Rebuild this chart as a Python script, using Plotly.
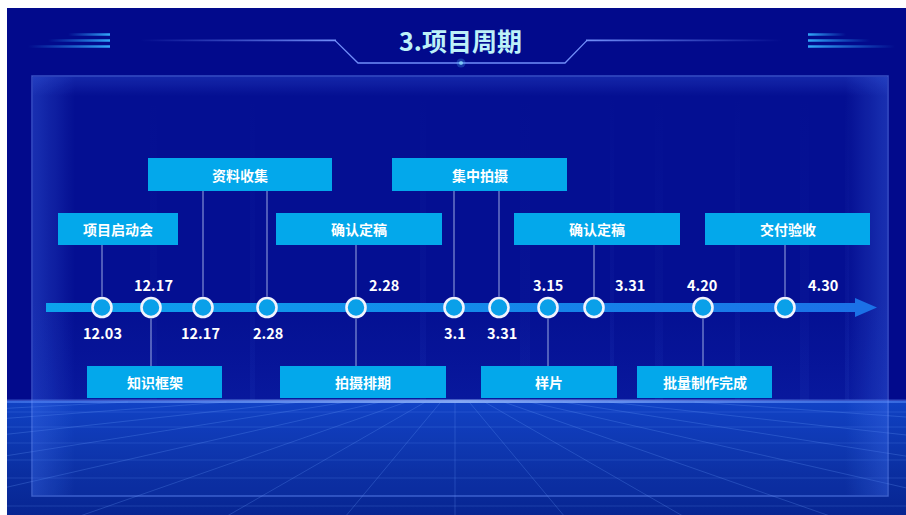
import plotly.graph_objects as go

W, H = 906, 515
FIG_H = H + 24  # a little taller than the window so the floor reaches the bottom edge
OFFX, OFFY = 7, 8  # page offset of the figure (white page margin)

# ---------------- data ----------------
title_text = "3.项目周期"
milestone_pos = [102, 151, 203, 267, 356, 454, 499, 548, 594, 703, 785]
date_labels = ["12.03", "12.17", "12.17", "2.28", "2.28", "3.1", "3.31", "3.15", "3.31", "4.20", "4.30"]
date_side = ["below", "above", "below", "below", "above", "below", "below", "above", "above", "above", "above"]
task_names = ["项目启动会", "资料收集", "确认定稿", "集中拍摄", "确认定稿", "交付验收",
              "知识框架", "拍摄排期", "样片", "批量制作完成"]
task_links = [[0], [2, 3], [4], [5, 6], [8], [10], [1], [4], [7], [9]]
task_row = ["upper", "top", "upper", "top", "upper", "upper", "lower", "lower", "lower", "lower"]

# ---------------- layout (positions / styles) ----------------
label_x = [102, 153, 200, 268, 384, 455, 502, 548, 630, 702, 823]
box_x0 = [58, 148, 276, 392, 514, 705, 87, 280, 481, 637]
box_x1 = [178, 332, 442, 567, 680, 870, 222, 446, 617, 772]
row_y = {"top": (158, 191), "upper": (213, 245), "lower": (366, 398)}
AXIS_Y = 307.5
NAVY = "#020a8c"
BOX = "#03a8eb"
FONT = "Noto Sans CJK SC"

X0, X1 = OFFX, OFFX + W
Y0, Y1 = OFFY, OFFY + FIG_H

fig = go.Figure()


def grad_rect(x0, x1, y0, y1, colors, direction="horizontal"):
    n = len(colors)
    cs = [[i / (n - 1), c] for i, c in enumerate(colors)]
    if direction == "horizontal":
        start, stop = x0, x1
    else:
        start, stop = y0, y1
    fig.add_trace(go.Scatter(
        x=[x0, x1, x1, x0, x0], y=[y0, y0, y1, y1, y0], mode="lines",
        line=dict(width=0, color="rgba(0,0,0,0)"), fill="toself",
        fillgradient=dict(type=direction, colorscale=cs, start=start, stop=stop),
        hoverinfo="skip", showlegend=False))


def poly_line(xs, ys, color, width):
    fig.add_trace(go.Scatter(x=xs, y=ys, mode="lines", line=dict(color=color, width=width),
                             hoverinfo="skip", showlegend=False))


shapes = []

# floor gradient
grad_rect(X0, X1, 401, Y1, ["rgb(16,66,196)", "rgb(10,46,160)", "rgb(5,30,135)"], "vertical")
# floor grid: perspective lines
vx, vy = 455, 385
fx, fy = [], []
for xb in [-2200, -1400, -800, -420, -150, 60, 215, 340, 455, 570, 695, 850, 1060, 1330, 1700, 2400]:
    xt = vx + (xb - vx) * (402 - vy) / (523 - vy)
    fx += [xt, xb, None]
    fy += [402, 523, None]
poly_line(fx, fy, "rgba(110,165,255,0.25)", 1)
hx, hy = [], []
for yy in [412, 427, 443, 460, 478, 506]:
    hx += [X0, X1, None]
    hy += [yy, yy, None]
poly_line(hx, hy, "rgba(110,165,255,0.20)", 1.2)

# panel
shapes.append(dict(type="rect", xref="x", yref="y", x0=32, x1=888, y0=76, y1=496,
                   fillcolor="rgba(40,80,220,0.07)", line=dict(width=1.5, color="rgba(110,150,255,0.5)"),
                   layer="above"))
grad_rect(33, 75, 77, 495, ["rgba(70,120,245,0.32)", "rgba(70,120,245,0)"], "horizontal")
grad_rect(845, 887, 77, 495, ["rgba(70,120,245,0)", "rgba(70,120,245,0.32)"], "horizontal")
grad_rect(33, 887, 77, 96, ["rgba(70,110,240,0.25)", "rgba(70,110,240,0)"], "vertical")
grad_rect(33, 887, 300, 400, ["rgba(30,80,220,0)", "rgba(30,80,220,0.15)"], "vertical")
# faint vertical streaks
for sx, sw, op in [(420, 6, 0.06), (520, 10, 0.05), (610, 4, 0.07), (655, 8, 0.05), (735, 5, 0.06),
                   (800, 9, 0.05), (845, 4, 0.07), (250, 5, 0.05), (150, 7, 0.04)]:
    grad_rect(sx, sx + sw, 90, 400, ["rgba(90,140,255,0)", "rgba(90,140,255,%.2f)" % op], "vertical")
# horizon glow
grad_rect(X0, X1, 399.5, 403, ["rgba(100,150,255,0.45)", "rgba(160,195,255,0.85)", "rgba(100,150,255,0.45)"],
          "horizontal")

# title decorations
grad_rect(140, 336, 39.6, 41.2, ["rgba(110,140,255,0)", "rgba(120,150,255,0.95)"], "horizontal")
grad_rect(586, 782, 39.6, 41.2, ["rgba(120,150,255,0.95)", "rgba(110,140,255,0)"], "horizontal")
poly_line([335, 358, 565, 587], [40.4, 63, 63, 40.4], "rgba(120,150,255,0.95)", 1.3)
for (a, b), yy in zip([(68, 110), (48, 110), (28, 110)], [34.5, 40.5, 46.5]):
    grad_rect(a, b, yy - 1.2, yy + 1.2, ["rgba(40,150,245,0)", "rgba(50,170,250,1)"], "horizontal")
for (a, b), yy in zip([(808, 846), (808, 870), (808, 895)], [34.5, 40.5, 46.5]):
    grad_rect(a, b, yy - 1.2, yy + 1.2, ["rgba(50,170,250,1)", "rgba(40,150,245,0)"], "horizontal")
fig.add_trace(go.Scatter(x=[461, 461], y=[63, 63], mode="markers",
                         marker=dict(size=[9, 4], color=["rgba(90,200,255,0.35)", "#8fe6ff"],
                                     line=dict(width=0)),
                         hoverinfo="skip", showlegend=False))

# timeline bar + arrow
bar_x0, bar_x1 = 46, 856
grad_rect(bar_x0, bar_x1, AXIS_Y - 4.5, AXIS_Y + 4.5, ["#0aa9ee", "#1a74e8"], "horizontal")
fig.add_trace(go.Scatter(x=[bar_x1 - 1, bar_x1 + 21, bar_x1 - 1, bar_x1 - 1],
                         y=[AXIS_Y - 9.5, AXIS_Y, AXIS_Y + 9.5, AXIS_Y - 9.5],
                         mode="lines", line=dict(width=0, color="#1a74e8"), fill="toself",
                         fillcolor="#1a74e8", hoverinfo="skip", showlegend=False))

# connectors
cx, cy = [], []
for name, links, row in zip(task_names, task_links, task_row):
    y0, y1 = row_y[row]
    for k in links:
        p = milestone_pos[k]
        if row == "lower":
            cx += [p, p, None]
            cy += [AXIS_Y + 11, y0, None]
        else:
            cx += [p, p, None]
            cy += [y1, AXIS_Y - 11, None]
poly_line(cx, cy, "rgba(190,205,240,0.85)", 1)

# milestone circles
fig.add_trace(go.Scatter(x=milestone_pos, y=[AXIS_Y] * len(milestone_pos), mode="markers",
                         marker=dict(size=19, color="#08a6ea", line=dict(color="white", width=2.6)),
                         hoverinfo="skip", showlegend=False))

annotations = []
# task boxes + text
for name, row, x0, x1 in zip(task_names, task_row, box_x0, box_x1):
    y0, y1 = row_y[row]
    shapes.append(dict(type="rect", xref="x", yref="y", x0=x0, x1=x1, y0=y0, y1=y1,
                       fillcolor=BOX, line=dict(width=0), layer="above"))
    annotations.append(dict(x=(x0 + x1) / 2, y=(y0 + y1) / 2, xref="x", yref="y", text="<b>%s</b>" % name,
                            showarrow=False, font=dict(family=FONT, size=14, color="white")))

# date labels
for txt, side, lx in zip(date_labels, date_side, label_x):
    ly = AXIS_Y - 23 if side == "above" else AXIS_Y + 25
    annotations.append(dict(x=lx, y=ly, xref="x", yref="y", text="<b>%s</b>" % txt, showarrow=False,
                            font=dict(family=FONT, size=14.5, color="white")))

# title
annotations.append(dict(x=460, y=40, xref="x", yref="y", text="<b>%s</b>" % title_text, showarrow=False,
                        font=dict(family=FONT, size=25, color="#bdf1f8")))

fig.update_layout(
    width=W, height=FIG_H, margin=dict(l=0, r=0, t=0, b=0),
    paper_bgcolor=NAVY, plot_bgcolor=NAVY,
    xaxis=dict(range=[X0, X1], visible=False, fixedrange=True),
    yaxis=dict(range=[Y1, Y0], visible=False, fixedrange=True),
    shapes=shapes, annotations=annotations, showlegend=False,
)
page_css = (
    "var de=document.documentElement;"
    "de.style.background='linear-gradient(to bottom,#fff %dpx,rgba(255,255,255,0) %dpx),"
    "linear-gradient(to right,#fff %dpx,rgb(8,32,138) %dpx)';"
    "document.body.style.background='transparent';"
    "document.body.style.margin='%dpx 0 0 %dpx';"
    "document.body.style.overflow='hidden';"
) % (OFFY, OFFY, OFFX, OFFX, OFFY, OFFX)
fig.write_html("out.html", post_script=page_css)
